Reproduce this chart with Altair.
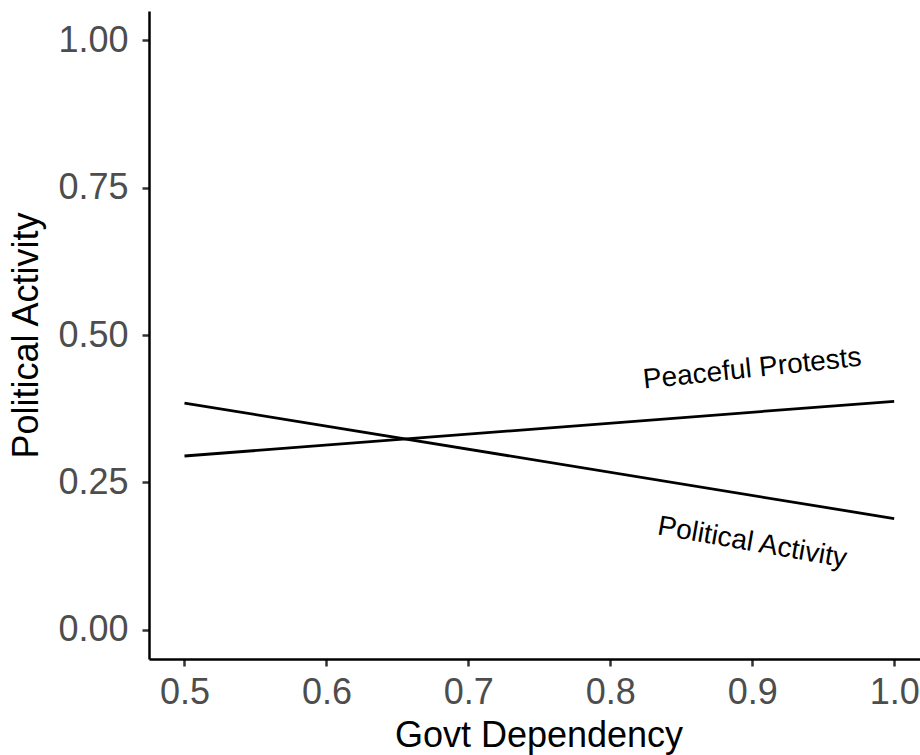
import altair as alt
import pandas as pd

# Data
govt_dependency = [0.5, 1.0]
peaceful_protests = [0.2946, 0.3875]
political_activity = [0.3845, 0.1884]

label_text = ["Peaceful Protests", "Political Activity"]
label_x = [0.9, 0.9]
label_y = [0.442, 0.147]
label_angle = [354, 10]

x_ticks = [0.5, 0.6, 0.7, 0.8, 0.9, 1.0]
y_ticks = [0.0, 0.25, 0.5, 0.75, 1.0]

rows = []
for s, vals in [("Peaceful Protests", peaceful_protests), ("Political Activity", political_activity)]:
    for x, v in zip(govt_dependency, vals):
        rows.append({"series": s, "x": x, "y": v})
df = pd.DataFrame(rows)

labels = pd.DataFrame({"text": label_text, "x": label_x, "y": label_y, "angle": label_angle})

FONT = "Liberation Sans"

xscale = alt.Scale(domain=[0.475, 1.0182], nice=False, zero=False)
yscale = alt.Scale(domain=[-0.05, 1.05], nice=False, zero=False)

xaxis = alt.Axis(values=x_ticks, format=".1f", title="Govt Dependency",
                 labelPadding=9, titleX=389.5, titleY=87, titleBaseline="alphabetic",
                 titleAnchor=None)
yaxis = alt.Axis(values=y_ticks, format=".2f", title="Political Activity",
                 labelPadding=14, titleX=-112, titleY=324, titleBaseline="alphabetic",
                 titleAngle=270)

lines = alt.Chart(df).mark_line(color="black", strokeWidth=2.8, clip=True).encode(
    x=alt.X("x:Q", scale=xscale, axis=xaxis),
    y=alt.Y("y:Q", scale=yscale, axis=yaxis),
    detail="series:N",
)

text1 = alt.Chart(labels.iloc[[0]]).mark_text(
    font=FONT, fontSize=28, color="black", angle=label_angle[0], baseline="middle", align="center"
).encode(x=alt.X("x:Q", scale=xscale), y=alt.Y("y:Q", scale=yscale), text="text:N")

text2 = alt.Chart(labels.iloc[[1]]).mark_text(
    font=FONT, fontSize=28, color="black", angle=label_angle[1], baseline="middle", align="center"
).encode(x=alt.X("x:Q", scale=xscale), y=alt.Y("y:Q", scale=yscale), text="text:N")

chart = alt.layer(lines, text1, text2).properties(
    width=771, height=648,
    autosize=alt.AutoSizeParams(type="none"),
    padding={"left": 149, "top": 11, "right": 0, "bottom": 96},
    background="white",
).configure_view(stroke=None).configure_axis(
    grid=False,
    domainColor="black", domainWidth=2.5,
    tickColor="#333333", tickWidth=2.5, tickSize=7,
    labelColor="#4D4D4D", labelFont=FONT, labelFontSize=36,
    titleColor="black", titleFont=FONT, titleFontSize=36, titleFontWeight="normal",
)

chart.save("out.html", embed_options={"renderer": "svg", "actions": False})
